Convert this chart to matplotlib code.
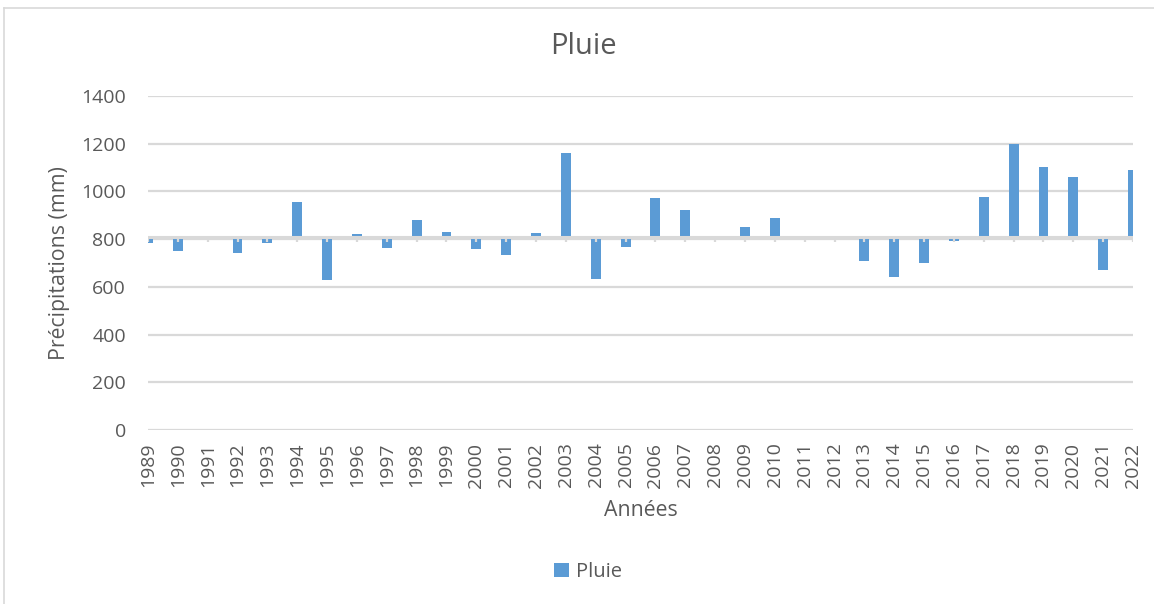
import matplotlib
matplotlib.use("Agg")
import matplotlib.pyplot as plt
from matplotlib.lines import Line2D
import numpy as np

years = [str(y) for y in range(1989, 2023)]
pluie = [785, 751, 803, 743, 782, 954, 629, 822, 761, 879,
         831, 760, 733, 826, 1162, 633, 768, 971, 921, 808,
         852, 887, 815, 800, 710, 643, 701, 794, 975, 1197,
         1102, 1060, 671, 1090]
y_ticks = [0, 200, 400, 600, 800, 1000, 1200, 1400]
axis_cross = 808

plt.rcParams['font.family'] = ['Open Sans', 'DejaVu Sans']
TXT = '#595959'
GRID = '#d9d9d9'
BLUE = '#5B9BD5'

fig = plt.figure(figsize=(11.54, 6.04), dpi=100)
ax = fig.add_axes([148/1154, 1 - 430/604, (1133-148)/1154, (430-96)/604])

x = np.arange(len(years))
vals = np.array(pluie, dtype=float)
ax.bar(x, vals - axis_cross, bottom=axis_cross, width=0.33, color=BLUE, zorder=3, label='Pluie')

ax.set_xlim(0, len(years) - 1)
ax.set_ylim(0, 1400)
ax.set_yticks(y_ticks)
ax.set_yticklabels([str(v) for v in y_ticks], color=TXT, fontsize=14)
ax.set_xticks(x)
ax.set_xticklabels(years, rotation=90, color=TXT, fontsize=14)
ax.tick_params(axis='both', length=0)
ax.tick_params(axis='y', pad=16)
ax.tick_params(axis='x', pad=9)
ax.grid(axis='y', color=GRID, linewidth=1.6, zorder=0)
for s in ax.spines.values():
    s.set_visible(False)

# horizontal category axis crossing at axis_cross, with tick marks
ax.axhline(axis_cross, color=GRID, linewidth=2.2, zorder=4)
tick_len = 1400 * 5 / 334
ax.vlines(x, axis_cross - tick_len, axis_cross, color=GRID, linewidth=1.6, zorder=4)

ax.set_ylabel('Précipitations (mm)', color=TXT, fontsize=15.3, labelpad=8)
ax.set_xlabel('Années', color=TXT, fontsize=15.3, labelpad=9)
fig.text(583/1154, 1 - 46/604, 'Pluie', ha='center', va='center', color=TXT, fontsize=21)

leg = fig.legend(loc='center', bbox_to_anchor=(588/1154, 1 - 572/604), frameon=False,
                 fontsize=14.5, handlelength=0.75, handleheight=0.75, handletextpad=0.35)
for t in leg.get_texts():
    t.set_color(TXT)

# chart frame (partially visible)
fig.add_artist(Line2D([4/1154, 1], [1 - 8/604, 1 - 8/604], transform=fig.transFigure, color=GRID, linewidth=1.2))
fig.add_artist(Line2D([4/1154, 4/1154], [0, 1 - 8/604], transform=fig.transFigure, color=GRID, linewidth=1.2))

fig.savefig('out.png', dpi=100, facecolor='white')
